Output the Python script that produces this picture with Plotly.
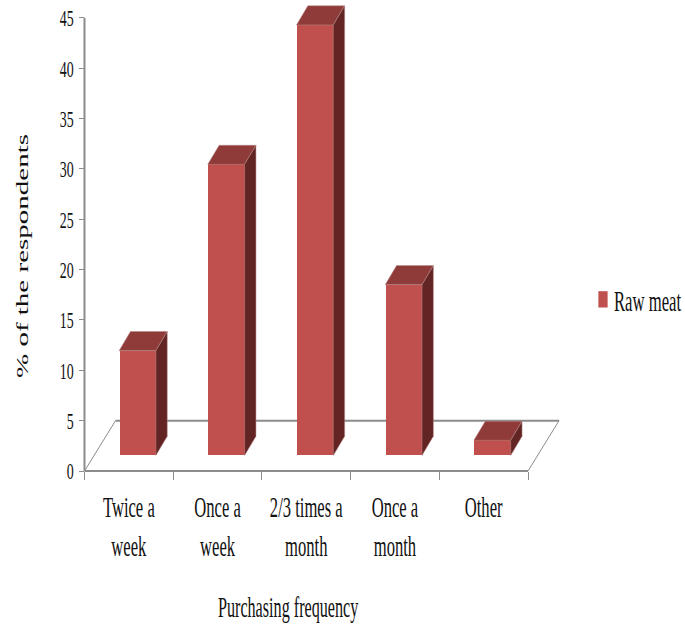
import plotly.graph_objects as go

# Survey results
categories = ["Twice a<br>week", "Once a<br>week", "2/3 times a<br>month", "Once a<br>month", "Other"]
series_name = "Raw meat"
percentages = [10.4, 28.9, 42.75, 16.95, 1.5]
y_ticks = [0, 5, 10, 15, 20, 25, 30, 35, 40, 45]

# Box projection, in axis units
FLOOR_LIFT = 1.55
BAR_LEFT = 0.39
BAR_WIDTH = 0.415
BOX_DX = 0.128
BOX_DY = 1.9
FLOOR_DX = 0.35
FLOOR_DY = 5

FRONT = "#C0504D"
TOP = "#8E3B39"
SIDE = "#632523"
AXIS = "#8C8C8C"
TEXT = "#111111"
SERIF = "Liberation Serif"

W, H = 685, 627
PX_PER_X = 88.7
PX_PER_Y = 10.07
ORIGIN_X = 84.5
ORIGIN_Y = 471
n = len(categories)
y_max = y_ticks[-1]

# The plot area runs past the last tick so the boxes and the floor stay unclipped
x_end = n + 0.4
y_end = ORIGIN_Y / PX_PER_Y

lefts = [i + BAR_LEFT for i in range(n)]
tops = [FLOOR_LIFT + v for v in percentages]

fig = go.Figure()

fig.add_trace(go.Bar(
    x=[l + BAR_WIDTH / 2 for l in lefts],
    y=percentages,
    base=FLOOR_LIFT,
    width=BAR_WIDTH,
    name=series_name,
    marker=dict(color=FRONT, line=dict(width=0)),
    showlegend=True,
))

# Top and side faces of each box
for l, t in zip(lefts, tops):
    r = l + BAR_WIDTH
    fig.add_trace(go.Scatter(
        x=[l, r, r + BOX_DX, l + BOX_DX, l],
        y=[t, t, t + BOX_DY, t + BOX_DY, t],
        mode="lines", fill="toself", fillcolor=TOP,
        line=dict(width=0.5, color="#B98A88"),
        showlegend=False, hoverinfo="skip",
    ))
    fig.add_trace(go.Scatter(
        x=[r, r + BOX_DX, r + BOX_DX, r, r],
        y=[t, t + BOX_DY, FLOOR_LIFT + BOX_DY, FLOOR_LIFT, t],
        mode="lines", fill="toself", fillcolor=SIDE,
        line=dict(width=0.5, color="#B98A88"),
        showlegend=False, hoverinfo="skip",
    ))

# Axis lines and floor outline, behind the bars
fx = lambda v: v / x_end
fy = lambda v: v / y_end
for x0, y0, x1, y1, w in [
    (0, 0, 0, y_max, 2),
    (0, 0, n, 0, 2),
    (0, 0, FLOOR_DX, FLOOR_DY, 1),
    (n, 0, n + FLOOR_DX, FLOOR_DY, 1),
    (FLOOR_DX, FLOOR_DY, n + FLOOR_DX, FLOOR_DY, 2),
]:
    fig.add_shape(type="line", xref="x domain", yref="y domain", layer="below",
                  x0=fx(x0), y0=fy(y0), x1=fx(x1), y1=fy(y1),
                  line=dict(color=AXIS, width=w))

fig.update_layout(
    width=W, height=H,
    margin=dict(l=0, r=0, t=0, b=0),
    paper_bgcolor="white", plot_bgcolor="white",
    showlegend=True,
    bargap=0,
    legend=dict(x=500 / W, y=1 - 274 / H, xanchor="left", yanchor="top",
                font=dict(family=SERIF, size=29, color=TEXT),
                bgcolor="rgba(0,0,0,0)"),
    xaxis=dict(
        domain=[ORIGIN_X / W, (ORIGIN_X + PX_PER_X * x_end) / W], range=[0, x_end],
        showgrid=False, zeroline=False, showline=False,
        tickmode="array", tickvals=[i + 0.5 for i in range(n)], ticktext=categories,
        ticks="", ticklen=0, tickangle=0, ticklabelstandoff=15,
        tickfont=dict(family=SERIF, size=30, color=TEXT),
        minor=dict(tickmode="array", tickvals=list(range(n + 1)), ticks="outside",
                   ticklen=8, tickwidth=1, tickcolor=AXIS, showgrid=False),
        automargin=False,
    ),
    yaxis=dict(
        domain=[1 - ORIGIN_Y / H, 1], range=[0, y_end],
        showgrid=False, zeroline=False, showline=False,
        tickmode="array", tickvals=y_ticks,
        ticks="outside", ticklen=5, tickwidth=1, tickcolor=AXIS,
        tickfont=dict(family=SERIF, size=24, color=TEXT),
        automargin=False,
    ),
    annotations=[
        dict(text="Purchasing frequency", xref="paper", yref="paper",
             x=288 / W, y=1 - 607 / H, xanchor="center", yanchor="middle",
             showarrow=False, font=dict(family=SERIF, size=29, color=TEXT)),
        dict(text="% of the respondents", xref="paper", yref="paper",
             x=22 / W, y=1 - 256 / H, xanchor="center", yanchor="middle",
             showarrow=False, textangle=-90,
             font=dict(family=SERIF, size=29, color=TEXT)),
    ],
)

# Narrow the type horizontally, as in the printed figure
post_script = """
(function () {
  var gd = document.getElementById('{plot_id}');
  function squeeze(el, sx, sy, side, dx) {
    var r = el.getBoundingClientRect();
    var cx = side === 'right' ? r.right : side === 'left' ? r.left : (r.left + r.right) / 2;
    var cy = (r.top + r.bottom) / 2;
    var svg = el.ownerSVGElement;
    var s = svg.createSVGMatrix().translate(cx + (dx || 0), cy).scaleNonUniform(sx, sy).translate(-cx, -cy);
    var m = el.parentNode.getScreenCTM().inverse().multiply(s).multiply(el.getScreenCTM());
    el.setAttribute('transform', 'matrix(' + [m.a, m.b, m.c, m.d, m.e, m.f].join(' ') + ')');
  }
  function apply() {
    gd.querySelectorAll('.xtick text tspan.line').forEach(function (t) {
      if (parseFloat(t.getAttribute('dy')) > 0) t.setAttribute('dy', '39px');
    });
    gd.querySelectorAll('.xtick text').forEach(function (t) { squeeze(t, 0.553, 1, 'center'); });
    gd.querySelectorAll('.ytick text').forEach(function (t) { squeeze(t, 0.58, 1, 'right'); });
    gd.querySelectorAll('.annotation-text').forEach(function (t) { squeeze(t, 0.557, 1, 'center'); });
    gd.querySelectorAll('.legend .scrollbox').forEach(function (b) { b.removeAttribute('clip-path'); });
    gd.querySelectorAll('.legendtext').forEach(function (t) {
      var left = t.getBoundingClientRect().left;
      squeeze(t, 0.575, 1, 'left', 622 - left);
    });
    gd.querySelectorAll('.legendpoints path').forEach(function (p) {
      var r = p.getBoundingClientRect();
      squeeze(p, 0.77, 1.36, 'center', 611 - (r.left + r.right) / 2);
    });
  }
  setTimeout(apply, 0);
})();
"""

fig.write_html("out.html", post_script=post_script, config={"displayModeBar": False})
